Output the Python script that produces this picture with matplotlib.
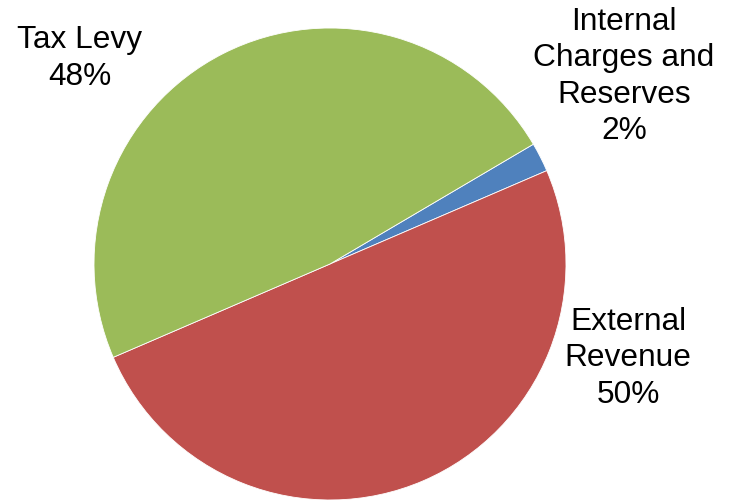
import matplotlib
matplotlib.use("Agg")
import matplotlib.pyplot as plt

categories = ["Internal\nCharges and\nReserves", "External\nRevenue", "Tax Levy"]
values = [2, 50, 48]
colors = ["#4F81BD", "#C0504D", "#9BBB59"]
label_pos = [(1.246, 0.795), (1.263, -0.40), (-1.06, 0.87)]

plt.rcParams['font.family'] = ['Liberation Sans', 'DejaVu Sans']

fig = plt.figure(figsize=(7.37, 5.01), dpi=100)
ax = fig.add_axes([0, 0, 1, 1])
ax.pie(values, colors=colors, startangle=30.5, counterclock=False,
       radius=1.0, center=(0, 0),
       wedgeprops=dict(edgecolor="white", linewidth=0.6))
total = sum(values)
for cat, v, (x, y) in zip(categories, values, label_pos):
    ax.text(x, y, f"{cat}\n{round(100 * v / total)}%", ha="center", va="center",
            fontsize=22.8, linespacing=1.28, color="black")

s = 236.0
ax.set_xlim(-330 / s, (737 - 330) / s)
ax.set_ylim(-(501 - 264) / s, 264 / s)
ax.set_aspect("equal")
ax.axis("off")
fig.savefig("out.png", dpi=100)
